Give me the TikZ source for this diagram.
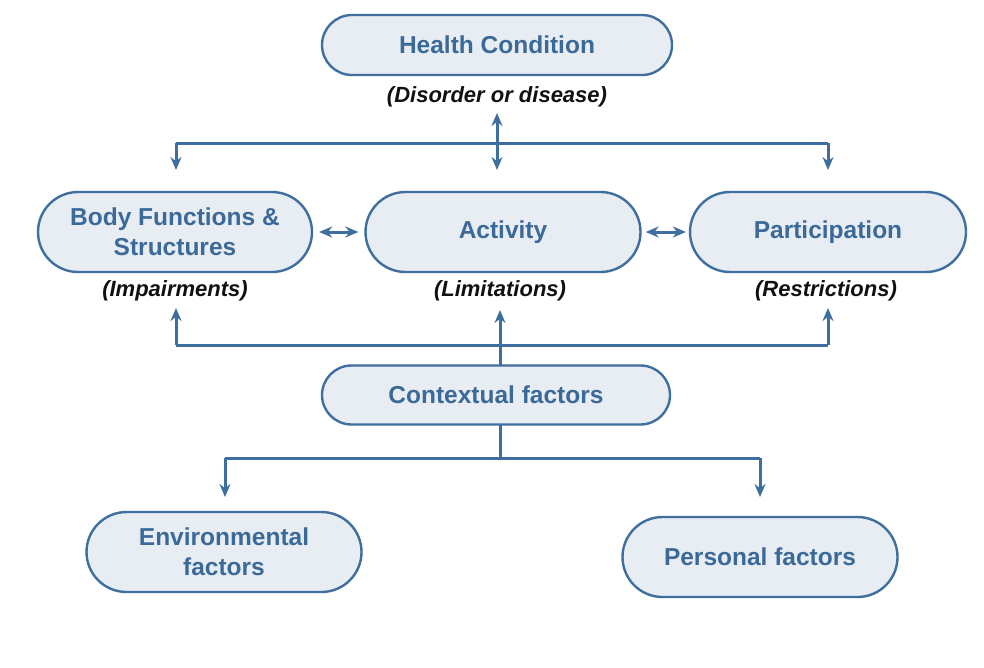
\documentclass[tikz,border=0pt]{standalone}
\usepackage{fontspec}
\setmainfont{Liberation Sans}
\usetikzlibrary{arrows.meta,shapes.misc}
\definecolor{boxfill}{HTML}{E7EDF3}
\definecolor{boxline}{HTML}{3F6F9F}
\definecolor{boxtext}{HTML}{3B6A99}
\definecolor{labtext}{HTML}{111111}
\tikzset{
  box/.style={rounded rectangle, draw=boxline, line width=2.4pt, fill=boxfill,
    inner sep=0pt, align=center, text=boxtext, font=\fontsize{24.5}{30}\selectfont\bfseries},
  lab/.style={text=labtext, inner sep=0pt, font=\fontsize{22}{24}\selectfont\bfseries\itshape},
  conn/.style={draw=boxline, line width=3pt},
  tip/.style={-{Stealth[length=13pt,width=11pt]}},
  dtip/.style={{Stealth[length=13pt,width=11pt]}-{Stealth[length=13pt,width=11pt]}}
}
\begin{document}
\begin{tikzpicture}[x=1pt,y=-1pt]
\useasboundingbox (0,0) rectangle (984,667);
\fill[white] (0,0) rectangle (984,667);
% boxes
\node[box, minimum width=350pt, minimum height=60pt] (hc) at (497,45) {Health Condition};
\node[box, minimum width=274pt, minimum height=80pt] (body) at (175,232) {Body Functions \&\\Structures};
\node[box, minimum width=275pt, minimum height=80pt] (act) at (503,232) {Activity};
\node[box, minimum width=276pt, minimum height=80pt] (part) at (828,232) {Participation};
\node[box, minimum width=348pt, minimum height=59pt] (ctx) at (496,395) {Contextual factors};
\node[box, minimum width=275pt, minimum height=80pt] (env) at (224,552) {Environmental\\factors};
\node[box, minimum width=275pt, minimum height=80pt] (pers) at (760,557) {Personal factors};
% labels
\node[lab] (dis) at (497,97) {(Disorder or disease)};
\node[lab] (imp) at (175,291) {(Impairments)};
\node[lab] (lim) at (500,291) {(Limitations)};
\node[lab] (res) at (826,291) {(Restrictions)};
% top connectors
\coordinate (hl) at (176,143);
\coordinate (hr) at (828,143);
\coordinate (hld) at (176,170);
\coordinate (hrd) at (828,170);
\coordinate (hmu) at (497,113);
\coordinate (hmd) at (497,170);
\draw[conn] (hl) -- (hr);
\draw[conn,tip] (hl) -- (hld);
\draw[conn,tip] (hr) -- (hrd);
\draw[conn,dtip] (hmu) -- (hmd);
% horizontal double arrows
\draw[conn,dtip] ([xshift=6pt]body.east) -- ([xshift=-6pt]act.west);
\draw[conn,dtip] ([xshift=4pt]act.east) -- ([xshift=-3pt]part.west);
% bottom bracket
\coordinate (bl) at (176,345);
\coordinate (br) at (828,345);
\coordinate (blu) at (176,308);
\coordinate (bru) at (828,308);
\coordinate (bmu) at (500,310);
\coordinate (ctop) at (500,365);
\draw[conn] (bl) -- (br);
\draw[conn,tip] (bl) -- (blu);
\draw[conn,tip] (br) -- (bru);
\draw[conn,tip] (ctop) -- (bmu);
% contextual down
\coordinate (cb) at (500,424);
\coordinate (cm) at (500,458);
\coordinate (cl) at (225,458);
\coordinate (cr) at (760,458);
\coordinate (cld) at (225,497);
\coordinate (crd) at (760,497);
\draw[conn] (cb) -- (cm);
\draw[conn] (cl) -- (cr);
\draw[conn,tip] (cl) -- (cld);
\draw[conn,tip] (cr) -- (crd);
\end{tikzpicture}
\end{document}
